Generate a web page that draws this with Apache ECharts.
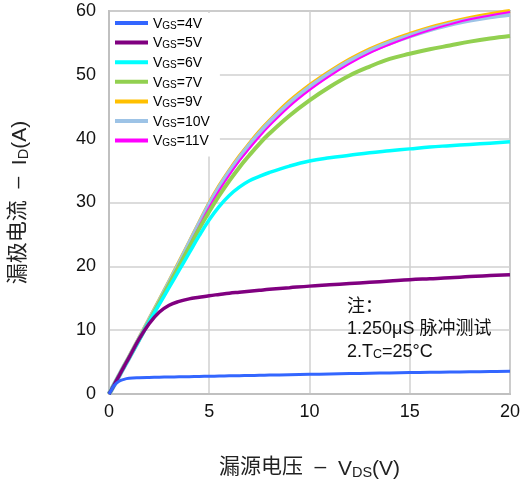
<!DOCTYPE html>
<html>
<head>
<meta charset="utf-8">
<script src="https://cdn.jsdelivr.net/npm/echarts@6/dist/echarts.min.js"></script>
<style>
html,body{margin:0;padding:0;background:#fff;}
#chart{width:523px;height:486px;}
</style>
</head>
<body>
<div id="chart"></div>
<script>
// Drain-source voltage sample points (V)
var XS = [0, 0.1, 0.25, 0.5, 0.75, 1, 1.5, 2, 2.5, 3, 3.5, 4, 4.5, 5, 5.5, 6, 6.5, 7, 7.5, 8, 9, 10, 11, 12, 13, 14, 15, 16, 17, 18, 19, 20];

// Drain current (A) for each gate voltage
var VGS4  = [0, 0.5, 1.3, 2.0, 2.3, 2.45, 2.55, 2.6, 2.63, 2.66, 2.69, 2.72, 2.75, 2.78, 2.81, 2.84, 2.87, 2.9, 2.93, 2.96, 3.02, 3.08, 3.14, 3.2, 3.25, 3.3, 3.35, 3.4, 3.44, 3.48, 3.52, 3.56];
var VGS5  = [0, 0.55, 1.4, 2.85, 4.3, 5.7, 8.6, 11.0, 12.8, 13.9, 14.5, 14.9, 15.15, 15.4, 15.6, 15.8, 15.95, 16.1, 16.25, 16.4, 16.65, 16.9, 17.1, 17.3, 17.5, 17.7, 17.9, 18.05, 18.2, 18.4, 18.55, 18.7];
var VGS6  = [0, 0.55, 1.4, 2.8, 4.2, 5.6, 8.45, 11.3, 14.0, 16.7, 19.4, 22.1, 24.8, 27.3, 29.4, 31.1, 32.4, 33.4, 34.1, 34.7, 35.7, 36.5, 37.0, 37.4, 37.8, 38.1, 38.4, 38.7, 38.9, 39.1, 39.3, 39.5];
var VGS7  = [0, 0.55, 1.4, 2.85, 4.3, 5.7, 8.55, 11.4, 14.3, 17.2, 20.1, 23.0, 25.9, 28.6, 31.1, 33.4, 35.5, 37.4, 39.2, 40.8, 43.6, 46.0, 48.1, 49.9, 51.3, 52.5, 53.3, 54.0, 54.6, 55.2, 55.7, 56.1];
var VGS9  = [0, 0.55, 1.45, 2.9, 4.35, 5.8, 8.75, 11.7, 14.65, 17.65, 20.7, 23.75, 26.85, 29.9, 32.6, 35.0, 37.2, 39.2, 41.1, 42.8, 45.85, 48.35, 50.5, 52.4, 54.0, 55.3, 56.4, 57.4, 58.2, 58.9, 59.5, 60.0];
var VGS10 = [0, 0.55, 1.4, 2.85, 4.3, 5.7, 8.6, 11.5, 14.4, 17.4, 20.4, 23.5, 26.6, 29.6, 32.3, 34.7, 36.9, 38.9, 40.8, 42.5, 45.5, 48.0, 50.2, 52.1, 53.7, 55.0, 56.1, 57.1, 57.9, 58.6, 59.1, 59.5];
var VGS11 = [0, 0.55, 1.4, 2.85, 4.3, 5.7, 8.55, 11.4, 14.3, 17.25, 20.2, 23.2, 26.3, 29.25, 31.9, 34.3, 36.5, 38.45, 40.3, 42.0, 45.05, 47.6, 49.8, 51.75, 53.4, 54.75, 55.95, 57.0, 57.9, 58.7, 59.3, 59.85];

var SERIES_NAMES = ['VGS=4V', 'VGS=5V', 'VGS=6V', 'VGS=7V', 'VGS=9V', 'VGS=10V', 'VGS=11V'];
var SERIES_VALUES = [VGS4, VGS5, VGS6, VGS7, VGS9, VGS10, VGS11];

var X_TICKS = [0, 5, 10, 15, 20];
var Y_TICKS = [0, 10, 20, 30, 40, 50, 60];

var NOTE_LINES = ['注：', '1.250μS 脉冲测试', '2.T{sub|C}=25°C'];

var COLORS = ['#3366ff', '#800080', '#00ffff', '#92d050', '#ffc000', '#9dc3e6', '#ff00ff'];
var WIDTHS = [3, 3.5, 3.5, 4, 4, 5, 2];
var ZS = [9, 8, 7, 6, 3, 4, 5];

var FONT = '"Liberation Sans", Arial, "Noto Sans CJK SC", sans-serif';

function pairs(ys) {
  return XS.map(function (x, i) { return [x, ys[i]]; });
}

var series = SERIES_NAMES.map(function (name, i) {
  return {
    name: name,
    type: 'line',
    data: pairs(SERIES_VALUES[i]),
    smooth: 0.4,
    showSymbol: false,
    color: COLORS[i],
    z: ZS[i],
    lineStyle: { width: WIDTHS[i], color: COLORS[i] },
    emphasis: { disabled: true }
  };
});

var chart = echarts.init(document.getElementById('chart'), null, { renderer: 'canvas' });

chart.setOption({
  animation: false,
  backgroundColor: '#ffffff',
  textStyle: { fontFamily: FONT },
  grid: {
    left: 108, right: 11, top: 11, bottom: 92,
    show: true, borderColor: '#c0c0c0', borderWidth: 2, backgroundColor: 'transparent'
  },
  legend: {
    data: SERIES_NAMES,
    orient: 'vertical',
    left: 110,
    top: 13,
    backgroundColor: '#ffffff',
    padding: [4, 10, 8, 5],
    itemGap: 5.6,
    itemWidth: 33,
    itemHeight: 4,
    icon: 'rect',
    z: 20,
    formatter: function (name) {
      return '{a|V}{b|GS}{a|' + name.slice(3) + '}';
    },
    textStyle: {
      fontFamily: FONT,
      color: '#000',
      padding: [0, 0, 0, 0],
      rich: {
        a: { fontSize: 14, fontFamily: FONT, color: '#000', lineHeight: 16, verticalAlign: 'bottom' },
        b: { fontSize: 10, fontFamily: FONT, color: '#000', lineHeight: 12, verticalAlign: 'bottom' }
      }
    }
  },
  xAxis: {
    type: 'value',
    min: 0, max: 20, interval: 5,
    name: '漏源电压  –  {a|V}{b|DS}{a|(V)}',
    nameLocation: 'middle',
    nameGap: 61,
    nameTextStyle: {
      fontSize: 21, color: '#222', fontFamily: FONT,
      rich: {
        a: { fontSize: 21, color: '#222', fontFamily: FONT, lineHeight: 25, verticalAlign: 'bottom' },
        b: { fontSize: 14.5, color: '#222', fontFamily: FONT, lineHeight: 18, verticalAlign: 'bottom' }
      }
    },
    axisLine: { show: true, lineStyle: { color: '#c0c0c0', width: 2 } },
    axisTick: { show: false },
    axisLabel: {
      fontSize: 18, color: '#111', margin: 9, fontFamily: FONT,
      formatter: function (v) { return X_TICKS.indexOf(v) >= 0 ? String(v) : ''; }
    },
    splitLine: { show: true, lineStyle: { color: '#d0d0d0', width: 1.5 } }
  },
  yAxis: {
    type: 'value',
    min: 0, max: 60, interval: 10,
    name: '漏极电流  –  {a|I}{b|D}{a|(A)}',
    nameLocation: 'middle',
    nameGap: 78,
    nameRotate: 90,
    nameTextStyle: {
      fontSize: 21, color: '#222', fontFamily: FONT,
      rich: {
        a: { fontSize: 21, color: '#222', fontFamily: FONT, lineHeight: 25, verticalAlign: 'bottom' },
        b: { fontSize: 14.5, color: '#222', fontFamily: FONT, lineHeight: 18, verticalAlign: 'bottom' }
      }
    },
    axisLine: { show: true, lineStyle: { color: '#c0c0c0', width: 2 } },
    axisTick: { show: false },
    axisLabel: {
      fontSize: 18, color: '#111', margin: 13, fontFamily: FONT,
      formatter: function (v) { return Y_TICKS.indexOf(v) >= 0 ? String(v) : ''; }
    },
    splitLine: { show: true, lineStyle: { color: '#d0d0d0', width: 1.5 } }
  },
  graphic: NOTE_LINES.map(function (t, i) {
    return {
      type: 'text',
      left: 347,
      top: 298 + i * 22.5,
      z: 30,
      style: {
        text: t,
        fill: '#111',
        font: '18px ' + FONT,
        rich: {
          sub: { fontSize: 12.5, fill: '#111', fontFamily: FONT, verticalAlign: 'bottom', lineHeight: 14 }
        }
      }
    };
  }),
  series: series
});
</script>
</body>
</html>
